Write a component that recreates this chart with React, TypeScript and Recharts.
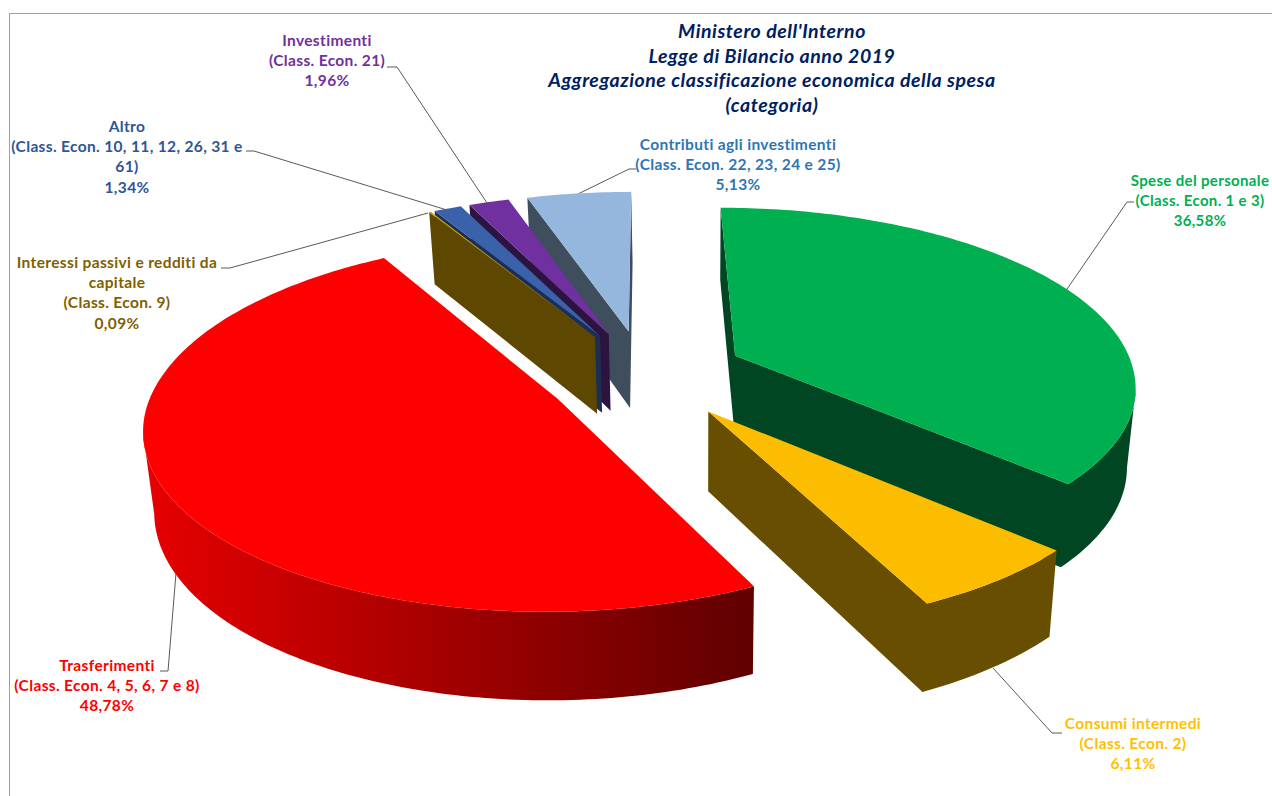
import React from "react";
import { Pie, PieChart } from "recharts";

// Slices are listed anti-clockwise so that the draw order matches the overlap in the picture
const categories = [
  "Spese del personale",
  "Contributi agli investimenti",
  "Investimenti",
  "Altro",
  "Interessi passivi e redditi da capitale",
  "Trasferimenti",
  "Consumi intermedi",
];
const classes = [
  "(Class. Econ. 1 e 3)",
  "(Class. Econ. 22, 23, 24 e 25)",
  "(Class. Econ. 21)",
  "(Class. Econ. 10, 11, 12, 26, 31 e 61)",
  "(Class. Econ. 9)",
  "(Class. Econ. 4, 5, 6, 7 e 8)",
  "(Class. Econ. 2)",
];
const shares = [36.58, 5.13, 1.96, 1.34, 0.09, 48.78, 6.11];

const topColors = ["#00B050", "#95B6DD", "#7030A0", "#3A62AB", "#D09C00", "#FF0000", "#FCBD00"];
const wallColors = ["#004622", "#3F4E5C", "#2D1340", "#1B2F55", "#5E4700", "url(#redWall)", "#674E00"];
const textColors = ["#00B050", "#2E75B6", "#7030A0", "#2F5597", "#7F6000", "#FF0000", "#FFC000"];

const titleLines = [
  "Ministero dell'Interno",
  "Legge di Bilancio anno 2019",
  "Aggregazione classificazione economica della spesa",
  "(categoria)",
];

const chartData = categories.map((name, i) => ({ name, value: shares[i], fill: topColors[i] }));

// small per-slice corrections of the exploded position, in px, and of the angle, in degrees
const nudgeX = [-5, 0, 0, 0, 0, 7, 3];
const nudgeY = [-2, 0, 0, 0, 0, -2, -5];
const turn = [0, 0, 0, 0, 0, -0.7, 0];
const apexX = [0, 0, 2, 3, 2, 0, -6];

// label block: centre x, first baseline, wrapped lines
const labelLayout = [
  { x: 1200, y: 186, size: 15, lines: [categories[0], classes[0]] },
  { x: 738, y: 150, size: 15.5, lines: [categories[1], classes[1]] },
  { x: 327, y: 46, size: 15.5, lines: [categories[2], classes[2]] },
  { x: 127, y: 132, size: 15.5, lines: [categories[3], "(Class. Econ. 10, 11, 12, 26, 31 e", "61)"] },
  { x: 117, y: 268, size: 15.5, lines: ["Interessi passivi e redditi da", "capitale", classes[4]] },
  { x: 107, y: 671, size: 15.5, lines: [categories[5], classes[5]] },
  { x: 1133, y: 729, size: 15.5, lines: [categories[6], classes[6]] },
];

const leaders = [
  "1134,202 1127,202 1065,292",
  "636,169 629,169 578,194",
  "387,67 397,67 487,203",
  "246,151 254,151 447,210",
  "221,268 230,268 428,213",
  "160,671 168,671 176,573",
  "1062,733 1052,733 993,668",
];

const EXPLODE = 0.265;
const SQUASH = 0.4525;

const scale = (y: number) => (y < 0 ? 1 + 0.15 * y : 1 + 0.157 * y - 0.015 * y * y);

const pieSlice = (props: any) => {
  const { cx, cy, outerRadius, startAngle, endAngle, index, tooltipPayload } = props;
  const i = index ?? categories.indexOf(tooltipPayload?.[0]?.name);
  const t1 = ((90 + turn[i] - Math.max(startAngle, endAngle)) * Math.PI) / 180;
  const t2 = ((90 + turn[i] - Math.min(startAngle, endAngle)) * Math.PI) / 180;
  const mid = (t1 + t2) / 2;
  const ox = Math.sin(mid) * EXPLODE;
  const oy = -Math.cos(mid) * EXPLODE;

  const project = (wx: number, wy: number) => {
    const p = scale(wy);
    return [cx + nudgeX[i] + outerRadius * wx * p, cy + nudgeY[i] + outerRadius * SQUASH * wy * p, wy];
  };
  const drop = (pt: number[]) => {
    const d = 78 * (1 + (pt[2] > 0 ? 0.12 : 0.07) * pt[2]);
    return [pt[0] + (700 - pt[0]) * 0.02, pt[1] + d];
  };

  const apex = project(ox, oy);
  apex[0] += apexX[i];
  const top = [apex];
  const steps = Math.max(2, Math.ceil(((t2 - t1) * 180) / Math.PI));
  for (let s = 0; s <= steps; s++) {
    const t = t1 + ((t2 - t1) * s) / steps;
    top.push(project(ox + Math.sin(t), oy - Math.cos(t)));
  }

  // the side faces the viewer where the outline runs leftwards
  const n = top.length;
  const facing = (k: number) => top[(k + 1) % n][0] - top[k][0] < 0;
  let first = 0;
  while (first < n && !(facing(first) && !facing((first + n - 1) % n))) first++;
  const run = [top[first % n]];
  for (let k = first; facing(k % n) && run.length <= n; k++) run.push(top[(k + 1) % n]);
  const outline = [...run, ...run.map(drop).reverse()];
  const wall = "M" + outline.map((pt) => `${pt[0]},${pt[1]}`).join("L") + "Z";
  const face = "M" + top.map((pt) => `${pt[0]},${pt[1]}`).join("L") + "Z";

  return (
    <g>
      <path d={wall} fill={wallColors[i]} />
      <path d={face} fill={topColors[i]} />
    </g>
  );
};

const font = "Lato, sans-serif";

const App = () => {
  return (
    <div style={{ position: "absolute", left: 0, top: 0, width: 1272, height: 796, overflow: "hidden", background: "#fff" }}>
      <PieChart width={1272} height={796} margin={{ top: 0, right: 0, bottom: 0, left: 0 }}>
        <defs>
          <linearGradient id="redWall" gradientUnits="userSpaceOnUse" x1={144} y1={0} x2={750} y2={0}>
            <stop offset="0%" stopColor="#E60000" />
            <stop offset="100%" stopColor="#600000" />
          </linearGradient>
        </defs>
        <rect x={9.5} y={13.5} width={1300} height={820} fill="none" stroke="#A0A0A0" strokeWidth={1} />
        <Pie
          data={chartData}
          dataKey="value"
          cx={645}
          cy={377}
          innerRadius={0}
          outerRadius={400}
          startAngle={-41.7}
          endAngle={318.3}
          stroke="none"
          isAnimationActive={false}
          labelLine={false}
          shape={pieSlice}
          inactiveShape={pieSlice}
          activeShape={pieSlice}
        />
        {leaders.map((pts) => (
          <polyline key={pts} points={pts} fill="none" stroke="#595959" strokeWidth={1} />
        ))}
        {titleLines.map((line, i) => (
          <text
            key={line}
            x={772}
            y={38 + i * 24.6}
            textAnchor="middle"
            fontFamily={font}
            fontSize={19.5}
            letterSpacing={0.55}
            fontWeight={700}
            fontStyle="italic"
            fill="#002060"
          >
            {line}
          </text>
        ))}
        {labelLayout.map((block, i) => (
          <text
            key={categories[i]}
            textAnchor="middle"
            fontFamily={font}
            fontSize={block.size}
            letterSpacing={0.35}
            fontWeight={700}
            fill={textColors[i]}
          >
            {[...block.lines, shares[i].toFixed(2).replace(".", ",") + "%"].map((line, k) => (
              <tspan key={k} x={block.x} y={block.y + k * 20.2}>
                {line}
              </tspan>
            ))}
          </text>
        ))}
      </PieChart>
    </div>
  );
};

export default App;
